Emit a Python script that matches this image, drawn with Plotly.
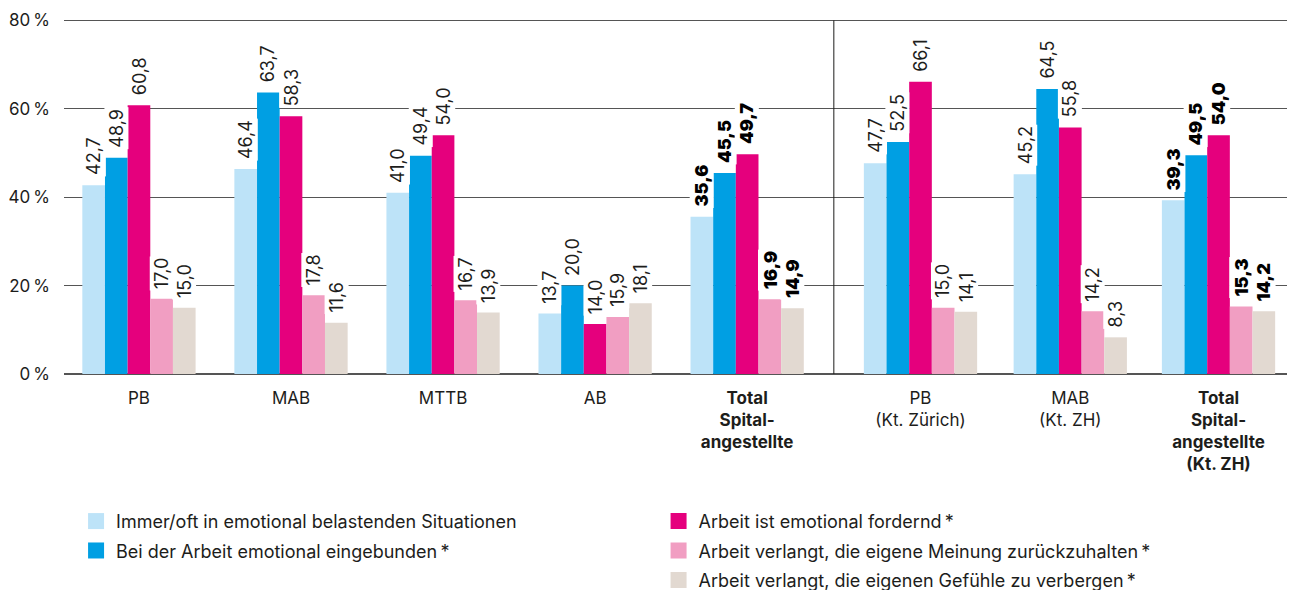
import plotly.graph_objects as go

# categories (x axis)
groups = ["PB", "MAB", "MTTB", "AB", "<b>Total<br>Spital-<br>angestellte</b>",
          "PB<br>(Kt. Zürich)", "MAB<br>(Kt. ZH)",
          "<b>Total<br>Spital-<br>angestellte<br>(Kt. ZH)</b>"]
bold_groups = [4, 7]

series_names = [
    "Immer/oft in emotional belastenden Situationen",
    "Bei der Arbeit emotional eingebunden\u2009*",
    "Arbeit ist emotional fordernd\u2009*",
    "Arbeit verlangt, die eigene Meinung zurückzuhalten\u2009*",
    "Arbeit verlangt, die eigenen Gefühle zu verbergen\u2009*",
]

# bar heights as drawn (%)
immer = [42.7, 46.4, 41.0, 13.7, 35.6, 47.7, 45.2, 39.3]
eingebunden = [48.9, 63.7, 49.4, 20.0, 45.5, 52.5, 64.5, 49.5]
fordernd = [60.8, 58.3, 54.0, 11.3, 49.7, 66.1, 55.8, 54.0]
meinung = [17.0, 17.8, 16.7, 12.9, 16.9, 15.0, 14.2, 15.3]
gefuehle = [15.0, 11.6, 13.9, 16.0, 14.9, 14.1, 8.3, 14.2]

# printed value labels
immer_lbl = ["42,7", "46,4", "41,0", "13,7", "35,6", "47,7", "45,2", "39,3"]
eingebunden_lbl = ["48,9", "63,7", "49,4", "20,0", "45,5", "52,5", "64,5", "49,5"]
fordernd_lbl = ["60,8", "58,3", "54,0", "14,0", "49,7", "66,1", "55,8", "54,0"]
meinung_lbl = ["17,0", "17,8", "16,7", "15,9", "16,9", "15,0", "14,2", "15,3"]
gefuehle_lbl = ["15,0", "11,6", "13,9", "18,1", "14,9", "14,1", "8,3", "14,2"]

y_ticks = [0, 20, 40, 60, 80]
y_ticktext = ["0\u202f%", "20\u202f%", "40\u202f%", "60\u202f%", "80\u202f%"]

# layout: group centres (second block shifted right of the separator)
pos = [0, 1, 2, 3, 4, 5.14, 6.125, 7.1]
sep_x = 4.57
bar_w = 0.149
colors = ["#bde3f8", "#009fe3", "#e5007d", "#f19ec2", "#e2d9d1"]

FONT = "Inter, 'Liberation Sans', Arial, sans-serif"
TXT = "#1d1d1b"

values = [immer, eingebunden, fordernd, meinung, gefuehle]
labels = [immer_lbl, eingebunden_lbl, fordernd_lbl, meinung_lbl, gefuehle_lbl]

fig = go.Figure()
annotations = []
for i, (vals, lbls) in enumerate(zip(values, labels)):
    off = -2.5 * bar_w + i * bar_w
    fig.add_trace(go.Bar(
        x=pos, y=vals, width=bar_w, offset=off,
        marker=dict(color=colors[i], line=dict(width=0)),
        showlegend=False, hoverinfo="skip"))
    # legend-only entry with a bigger square
    fig.add_trace(go.Scatter(
        x=[None], y=[None], mode="markers", name=series_names[i],
        marker=dict(symbol="square", size=16, color=colors[i]),
        legend="legend" if i < 2 else "legend2", legendgroup=str(i)))
    for j, (v, t) in enumerate(zip(vals, lbls)):
        annotations.append(dict(
            x=pos[j] + off + bar_w / 2, y=v, xref="x", yref="y",
            text=t, showarrow=False, textangle=-90,
            xanchor="center", yanchor="bottom", yshift=8,
            bgcolor="white", borderpad=1,
            font=dict(family=FONT, size=18, color="#000" if j in bold_groups else TXT,
                      weight=900 if j in bold_groups else 400)))

fig.add_shape(type="line", xref="x", yref="y", x0=sep_x, x1=sep_x, y0=0, y1=80,
              line=dict(color="#1d1d1b", width=1), layer="above")

legend_common = dict(
    orientation="v", yanchor="top", xanchor="left", y=-0.36,
    font=dict(family=FONT, size=18, color=TXT), bgcolor="rgba(0,0,0,0)",
    tracegroupgap=3, itemclick=False, itemdoubleclick=False)

# page body has an 8px margin, so the figure is 8px smaller than the window
fig.update_layout(
    width=1287, height=582,
    margin=dict(l=56, r=0, t=7.575, b=216, autoexpand=False),
    paper_bgcolor="white", plot_bgcolor="white",
    barmode="overlay",
    font=dict(family=FONT, size=17, color=TXT),
    annotations=annotations,
    legend=dict(x=0.0098, **legend_common),
    legend2=dict(x=0.483, **legend_common),
    xaxis=dict(range=[-0.493, 7.603], tickvals=pos, ticktext=groups,
               showgrid=False, zeroline=False, showline=False, ticks="",
               ticklabelstandoff=12,
               tickfont=dict(family=FONT, size=17, color=TXT), fixedrange=True),
    yaxis=dict(range=[0, 81], tickvals=y_ticks, ticktext=y_ticktext,
               showgrid=True, gridcolor="#555555", gridwidth=1,
               zeroline=True, zerolinecolor="#555555", zerolinewidth=1.5,
               ticks="", ticklabelstandoff=13,
               tickfont=dict(family=FONT, size=17, color=TXT), fixedrange=True),
)

fig.write_html("out.html")
